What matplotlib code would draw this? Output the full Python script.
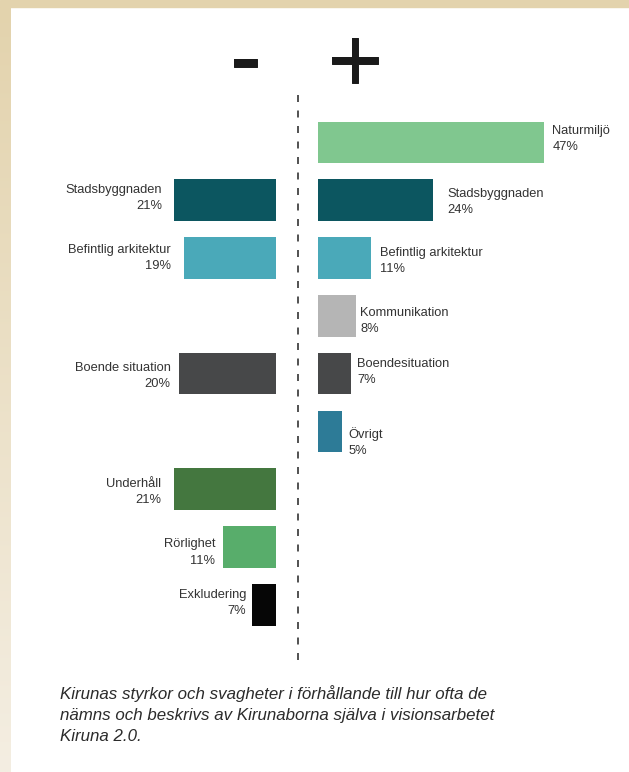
import numpy as np
import matplotlib
matplotlib.use("Agg")
import matplotlib.pyplot as plt
import matplotlib.patheffects as pe
from matplotlib.colors import LinearSegmentedColormap
from matplotlib.lines import Line2D

# ---------------- data ----------------
pos_categories = ["Naturmiljö", "Stadsbyggnaden", "Befintlig arkitektur",
                  "Kommunikation", "Boendesituation", "Övrigt"]
pos_labels = ["47%", "24%", "11%", "8%", "7%", "5%"]
pos_values = [47, 24, 11, 8, 7, 5]          # bar lengths as drawn
pos_colors = ["#80c78f", "#0c5660", "#4aa9b9", "#b5b5b5", "#474849", "#2d7b97"]

neg_categories = ["Stadsbyggnaden", "Befintlig arkitektur", "Boende situation",
                  "Underhåll", "Rörlighet", "Exkludering"]
neg_labels = ["21%", "19%", "20%", "21%", "11%", "7%"]
neg_values = [21, 19, 20, 21, 11, 5]        # bar lengths as drawn (Exkludering bar drawn short)
neg_colors = ["#0c5660", "#4aa9b9", "#474849", "#44773f", "#58ad6b", "#060606"]

caption = ("Kirunas styrkor och svagheter i förhållande till hur ofta de\n"
           "nämns och beskrivs av Kirunaborna själva i visionsarbetet\n"
           "Kiruna 2.0.")

# ---------------- layout / style ----------------
W, H = 629, 772
pos_rows = [0, 1, 2, 3, 4, 5]
neg_rows = [1, 2, 4, 6, 7, 8]
pos_gap = [8, 14, 9, 4, 5.5, 6.5]        # px between bar end and label
pos_dy = [-3, 2, 3, 5, -2, 11]           # px label shift (down)
neg_gap = [12.5, 13, 8.5, 13, 7.5, 5.5]
neg_dy = [-2, 0, 2, 2.5, 5.5, -1.5]

PX_PER_PCT = 4.82
ROW0, ROW_STEP = 142.4, 57.8
AX_TOP, AX_BOT = 95, 670
LEFT_END, RIGHT_START = 275.7, 317.7
BAR_H = 0.72

FONT = "Liberation Sans"
TXT = "#333333"

fig = plt.figure(figsize=(W / 100, H / 100), dpi=100)
fig.patch.set_facecolor("white")

# decorative beige frame
fig.patches.append(plt.Rectangle((0, 1 - 7 / H), 1, 7 / H, transform=fig.transFigure,
                                 color="#e3d3ad", zorder=0))
bg = fig.add_axes([0, 0, 11 / W, 1 - 7 / H])
cmap = LinearSegmentedColormap.from_list("b", ["#f4eee2", "#e3d3ad"])
bg.imshow(np.linspace(0, 1, 256)[:, None], aspect="auto", cmap=cmap, origin="lower")
bg.axis("off")

ylim = ((AX_BOT - ROW0) / ROW_STEP, (AX_TOP - ROW0) / ROW_STEP)
fb = 1 - AX_BOT / H
fh = (AX_BOT - AX_TOP) / H

# right (+) axes
axr = fig.add_axes([RIGHT_START / W, fb, (W - RIGHT_START) / W, fh])
axr.set_xlim(0, (W - RIGHT_START) / PX_PER_PCT)
axr.set_ylim(*ylim)
axr.barh(pos_rows, pos_values, height=BAR_H, color=pos_colors, align="center")
for r, v, c, l, g, d in zip(pos_rows, pos_values, pos_categories, pos_labels, pos_gap, pos_dy):
    axr.annotate(f"{c}\n{l}", (v, r), xytext=(g, -d), textcoords="offset pixels",
                 ha="left", va="center", fontsize=9.3, family=FONT, color=TXT,
                 linespacing=1.45)
axr.axis("off")

# left (-) axes, inverted
axl = fig.add_axes([11 / W, fb, (LEFT_END - 11) / W, fh])
axl.set_xlim((LEFT_END - 11) / PX_PER_PCT, 0)
axl.set_ylim(*ylim)
axl.barh(neg_rows, neg_values, height=BAR_H, color=neg_colors, align="center")
for r, v, c, l, g, d in zip(neg_rows, neg_values, neg_categories, neg_labels, neg_gap, neg_dy):
    axl.annotate(f"{c}\n{l}", (v, r), xytext=(-g, -d), textcoords="offset pixels",
                 ha="right", va="center", multialignment="right", fontsize=9.3,
                 family=FONT, color=TXT, linespacing=1.45)
axl.axis("off")

# dashed divider
lw = 1.1
ln = Line2D([297.5 / W, 297.5 / W], [1 - 95 / H, 1 - 667 / H], transform=fig.transFigure,
            color="#222222", linewidth=lw, dashes=(7 * 0.72 / lw, 8.5 * 0.72 / lw),
            dash_capstyle="butt")
fig.lines.append(ln)

# - and + signs
thick = [pe.withStroke(linewidth=0.7, foreground="#1a1a1a")]
fig.text(245.5 / W, 1 - 54 / H, "-", fontsize=70, family=FONT, color="#1a1a1a",
         ha="center", va="center_baseline", path_effects=thick)
fig.text(355 / W, 1 - 58 / H, "+", fontsize=67, family=FONT, color="#1a1a1a",
         ha="center", va="center_baseline", path_effects=thick)

# caption
fig.text(60 / W, 1 - 715 / H, caption, fontsize=12.2, family=FONT, style="italic",
         color="#2b2b2b", ha="left", va="center", linespacing=1.5)

fig.savefig("out.png", dpi=100, facecolor="white")
